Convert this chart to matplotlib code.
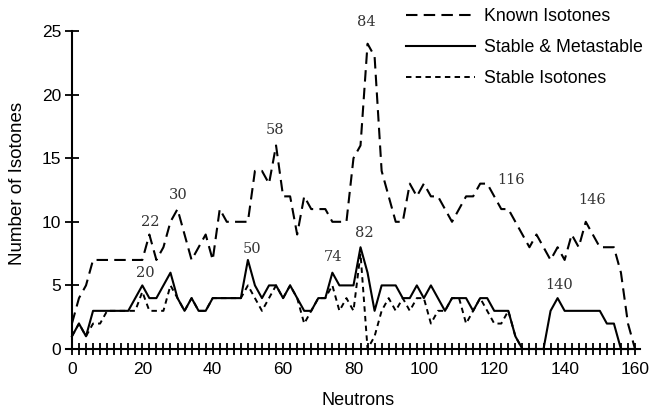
import numpy as np
import matplotlib.pyplot as plt

plt.rcParams['font.family'] = ['Liberation Sans', 'DejaVu Sans']

# neutron number (even N only)
neutrons = np.arange(0, 162, 2)

# number of known isotones per N
known = [2, 4, 5, 7, 7, 7, 7, 7, 7, 7,
         7, 9, 7, 8, 10, 11, 9, 7, 8, 9,
         7, 11, 10, 10, 10, 10, 14, 14, 13, 16,
         12, 12, 9, 12, 11, 11, 11, 10, 10, 10,
         15, 16, 24, 23, 14, 12, 10, 10, 13, 12,
         13, 12, 12, 11, 10, 11, 12, 12, 13, 13,
         12, 11, 11, 10, 9, 8, 9, 8, 7, 8,
         7, 9, 8, 10, 9, 8, 8, 8, 6, 2,
         0]

# stable plus metastable isotones
metastable = [1, 2, 1, 3, 3, 3, 3, 3, 3, 4,
              5, 4, 4, 5, 6, 4, 3, 4, 3, 3,
              4, 4, 4, 4, 4, 7, 5, 4, 5, 5,
              4, 5, 4, 3, 3, 4, 4, 6, 5, 5,
              5, 8, 6, 3, 5, 5, 5, 4, 4, 5,
              4, 5, 4, 3, 4, 4, 4, 3, 4, 4,
              3, 3, 3, 1, 0, 0, 0, 0, 3, 4,
              3, 3, 3, 3, 3, 3, 2, 2, 0, 0,
              0]

# stable isotones only (none above N = 128)
stable_n = np.arange(0, 130, 2)
stable = [1, 2, 1, 2, 2, 3, 3, 3, 3, 3,
          4.5, 3, 3, 3, 5, 4, 3, 4, 3, 3,
          4, 4, 4, 4, 4, 5, 4, 3, 4, 5,
          4, 5, 4, 2, 3, 4, 4, 5, 3, 4,
          3, 7.5, 0, 1, 3, 4, 3, 4, 3, 4,
          4, 2, 3, 3, 4, 4, 2, 3, 4, 3,
          2, 2, 3, 1, 0]

# peak labels: text, N position, height
peak_text = ['20', '22', '30', '50', '58', '74', '82', '84', '116', '140', '146']
peak_x = [20.8, 22.2, 30.2, 51.2, 57.8, 74.2, 83.2, 83.6, 124.9, 138.4, 147.8]
peak_y = [5.95, 10.0, 12.1, 7.9, 17.2, 7.25, 9.1, 25.7, 13.3, 5.0, 11.7]

fig = plt.figure(figsize=(6.52, 4.15), dpi=100)
ax = fig.add_axes([66.3 / 652, 66 / 415, 574 / 652, 318 / 415])

ax.plot(neutrons, known, color='black', lw=1.5, dashes=[5.5, 3], clip_on=False,
        label='Known Isotones')
ax.plot(neutrons, metastable, color='black', lw=1.5, clip_on=False,
        label='Stable & Metastable')
ax.plot(stable_n, stable, color='black', lw=1.4, dashes=[2.8, 2.2], clip_on=False,
        label='Stable Isotones')

for t, x, y in zip(peak_text, peak_x, peak_y):
    ax.text(x, y, t, ha='center', va='center', family='DejaVu Serif',
            fontsize=10.5, color='#333333')

ax.set_xlim(-1.6, 161.5)
ax.set_ylim(0, 25)

# axis lines: left one sits at N = 0, bottom one at zero count
ax.spines['top'].set_visible(False)
ax.spines['right'].set_visible(False)
ax.spines['left'].set_position(('data', 0))
ax.spines['left'].set_linewidth(1.5)
ax.spines['bottom'].set_linewidth(1.5)

ax.set_xticks(np.arange(0, 161, 20))
ax.set_xticks(np.arange(0, 161, 2), minor=True)
ax.set_yticks(np.arange(0, 26, 5))
ax.tick_params(axis='x', which='both', direction='inout', length=8, width=1.3,
               pad=5, labelsize=12.5)
ax.tick_params(axis='y', direction='inout', length=9.5, width=1.3, pad=3,
               labelsize=12.5)

ax.set_xlabel('Neutrons', fontsize=13)
ax.set_ylabel('Number of Isotones', fontsize=13.5)
ax.xaxis.set_label_coords(0.508, -0.135)
ax.yaxis.set_label_coords(-0.07, 0.52)

ax.legend(loc='upper left', bbox_to_anchor=(406 / 652, 1 - 8 / 415),
          bbox_transform=fig.transFigure, frameon=False, borderpad=0,
          borderaxespad=0, handlelength=3.9, handletextpad=0.5,
          labelspacing=0.78, fontsize=12.8)

fig.savefig('out.png', dpi=100)
